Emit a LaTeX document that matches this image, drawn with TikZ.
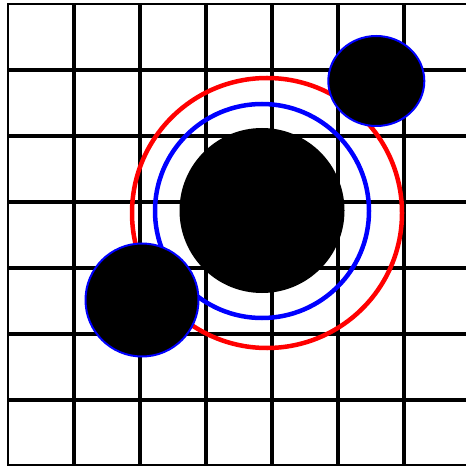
\documentclass[tikz,border=0pt]{standalone}
\begin{document}
\begin{tikzpicture}[x=1bp,y=-1bp,
  gridline/.style={line width=3.5bp,black},
  ring/.style={line width=4.5bp},
  ball/.style={fill=black,draw=blue,line width=2bp}]
\useasboundingbox (0,0) rectangle (466,466);
\fill[white] (0,0) rectangle (466,466);
\begin{scope}
\clip (0,0) rectangle (466,466);
\foreach \i in {1,...,6} {
  \draw[gridline] (8+66*\i,4) -- (8+66*\i,470);
  \draw[gridline] (8,4+66*\i) -- (470,4+66*\i);
}
\draw[line width=2.5bp] (8,470) -- (8,4) -- (470,4);
\draw[line width=2.5bp] (8,465) -- (470,465);
\end{scope}
\draw[ring,red] (267,213) circle[radius=135];
\draw[ring,blue] (262,211) circle[radius=107];
\fill[black] (262,210.5) circle[radius=82.5];
\filldraw[ball] (376.3,81) ellipse[x radius=48,y radius=45];
\filldraw[ball] (142,300) circle[radius=56.5];
\end{tikzpicture}
\end{document}
